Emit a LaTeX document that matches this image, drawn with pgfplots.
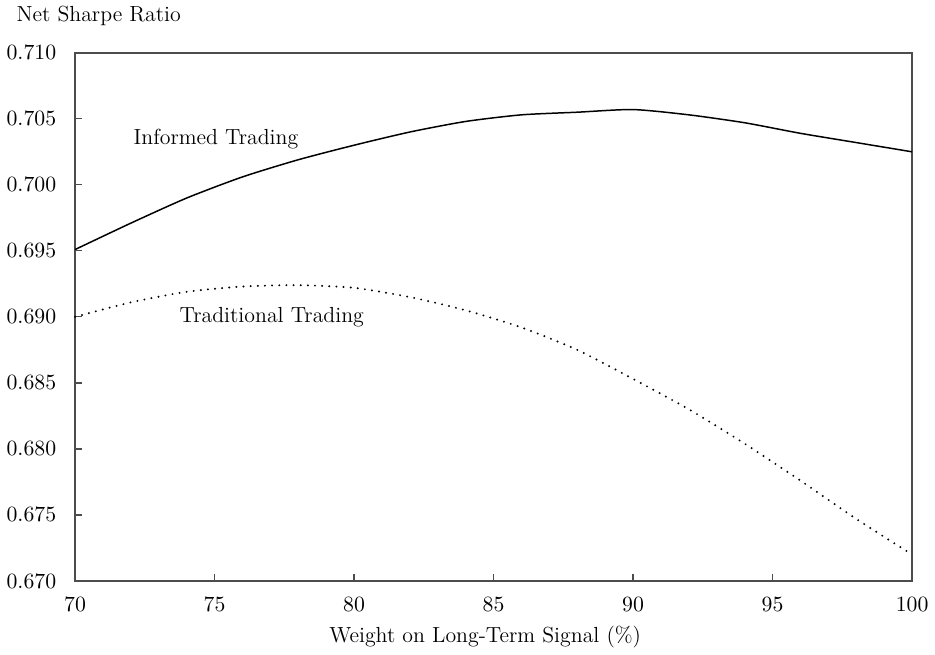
\documentclass[border=0pt]{standalone}
\usepackage{pgfplots}
\pgfplotsset{compat=1.18}

\pgfplotstableread{
x     y
70    0.6951
72    0.6971
74    0.6990
76    0.7006
78    0.7019
80    0.7030
82    0.7040
84    0.7048
86    0.7053
88    0.7055
90    0.7057
92    0.7053
94    0.7047
96    0.7039
98    0.7032
100   0.7025
}\informed

\pgfplotstableread{
x     y
70    0.6900
72    0.6911
74    0.6919
76    0.6923
78    0.6924
80    0.6922
82    0.6915
84    0.6905
86    0.6892
88    0.6875
90    0.6853
92    0.6830
94    0.6804
96    0.6776
98    0.6747
100   0.6720
}\traditional

\begin{document}
\begin{tikzpicture}
  \begin{axis}[
    scale only axis,
    clip=false,
    width=421.5pt, height=266pt,
    xmin=70, xmax=100,
    ymin=0.670, ymax=0.710,
    xtick={70,75,...,100},
    ytick={0.670,0.675,...,0.710},
    xtick pos=bottom, ytick pos=left,
    tick align=inside,
    major tick length=3.5pt,
    axis line style={black!70, line width=0.8pt},
    tick style={black!70, line width=0.6pt},
    font=\fontsize{11}{13}\selectfont,
    yticklabel style={/pgf/number format/.cd, fixed, fixed zerofill, precision=3, /tikz/.cd, xshift=-6pt},
    xticklabel style={yshift=-5pt},
    xlabel={Weight on Long-Term Signal (\%)},
    xlabel style={at={(rel axis cs:0.49,0)}, anchor=base, yshift=-31pt},
  ]
  \addplot[black, line width=0.75pt, smooth, tension=0.4] table {\informed};
  \addplot[black, line width=1.1pt, line cap=round, dash pattern=on 0pt off 3.6pt, smooth, tension=0.4] table {\traditional};
  \node at (axis cs:75.05,0.7035) {Informed Trading};
  \node at (axis cs:77.05,0.6900) {Traditional Trading};
  \node[anchor=base west, xshift=-33pt, yshift=15.5pt] at (rel axis cs:0,1) {Net Sharpe Ratio};
  \end{axis}
\end{tikzpicture}
\end{document}
